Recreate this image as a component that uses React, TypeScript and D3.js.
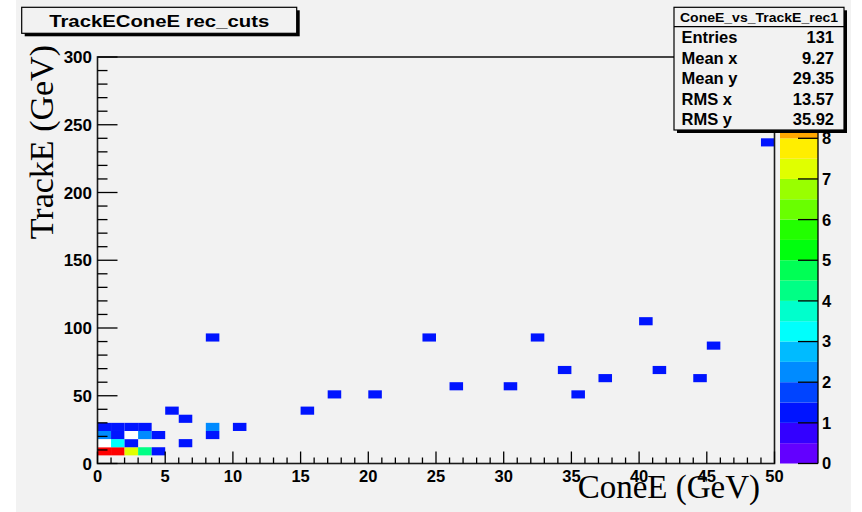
import React from 'react';
import * as d3 from 'd3';

const W = 862;
const H = 512;

// Filled bins of the 2D histogram (lower bin edges, bin contents)
const binConeE = [0, 1, 2, 3, 4, 0, 1, 2, 6, 0, 1, 2, 3, 4, 8, 0, 1, 2, 3, 8, 10, 6, 5, 15, 17, 20, 35, 26, 30, 37, 44, 34, 41, 45, 8, 24, 32, 40, 49];
const binTrackE = [6, 6, 6, 6, 6, 12, 12, 12, 12, 18, 18, 18, 18, 18, 18, 24, 24, 24, 24, 24, 24, 30, 36, 36, 48, 48, 48, 54, 54, 60, 60, 66, 66, 84, 90, 90, 90, 102, 234];
const binContent = [10, 10, 7, 4, 1, 0, 3, 1, 1, 2, 1, 0, 2, 1, 1, 1, 1, 1, 1, 2, 1, 1, 1, 1, 1, 1, 1, 1, 1, 1, 1, 1, 1, 1, 1, 1, 1, 1, 1];

const binWidthX = 1;
const binWidthY = 6;

const xTickLabels = ['0', '5', '10', '15', '20', '25', '30', '35', '40', '45', '50'];
const yTickLabels = ['0', '50', '100', '150', '200', '250', '300'];
const zTickLabels = ['0', '1', '2', '3', '4', '5', '6', '7', '8'];

const statsLabels = ['Entries', 'Mean x', 'Mean y', 'RMS x', 'RMS y'];
const statsValues = ['131', '9.27', '29.35', '13.57', '35.92'];

const titleText = 'TrackEConeE rec_cuts';
const statsTitle = 'ConeE_vs_TrackE_rec1';
const xTitle = 'ConeE (GeV)';
const yTitle = 'TrackE (GeV)';

const Z_MAX = 10;
const N_CONTOURS = 20;
const N_COLORS = 50;

// Violet -> red spectrum palette (fixed saturation and lightness, hue scan)
function paletteColor(i: number): string {
  if (i >= N_COLORS - 1) return '#ff0000';
  const hue = 280 - (i + 1) * (280 / N_COLORS);
  return d3.hsl(hue, 1, 0.5).formatHex();
}

function contourColor(k: number): string {
  const idx = Math.floor(((k + 0.99) * N_COLORS) / N_CONTOURS);
  return paletteColor(idx);
}

function zColor(z: number): string {
  if (z <= 0) return '#ffffff';
  const k = Math.min(N_CONTOURS - 1, Math.floor(z / (Z_MAX / N_CONTOURS)));
  return contourColor(k);
}

const BG = '#f2f2f2';
const SANS = "'Liberation Sans', Arial, Helvetica, sans-serif";
const SERIF = "'Liberation Serif', 'Times New Roman', serif";

export default function App() {
  const frame = { left: 97.5, right: 774.5, top: 57, bottom: 463.5 };
  const x = d3.scaleLinear().domain([0, 50]).range([frame.left, frame.right]);
  const y = d3.scaleLinear().domain([0, 300]).range([frame.bottom, frame.top]);

  const bar = { left: 780, right: 818 };
  const z = d3.scaleLinear().domain([0, Z_MAX]).range([frame.bottom, frame.top]);

  const xMinor = d3.range(0, 51, 1);
  const yMinor = d3.range(0, 301, 10);
  const levels = d3.range(N_CONTOURS);
  const step = Z_MAX / N_CONTOURS;

  const stats = { left: 674, right: 844, top: 7.3, bottom: 130, head: 26.7 };
  const title = { left: 21.7, right: 296.7, top: 7.3, bottom: 33.3 };

  return (
    <svg
      width={W}
      height={H}
      style={{ position: 'absolute', left: 0, top: 0, display: 'block' }}
      xmlns="http://www.w3.org/2000/svg"
    >
      <rect x={0} y={0} width={W} height={H} fill="#ffffff" />
      <rect x={16} y={0} width={835} height={H} fill={BG} />

      {/* histogram title box */}
      <rect x={title.left + 3} y={title.top + 3} width={title.right - title.left} height={title.bottom - title.top} fill="#000" />
      <rect x={title.left} y={title.top} width={title.right - title.left} height={title.bottom - title.top} fill={BG} stroke="#000" strokeWidth={1.2} />
      <text
        x={(title.left + title.right) / 2}
        y={26.7}
        textAnchor="middle"
        fontFamily={SANS}
        fontWeight="bold"
        fontSize={17}
        textLength={220}
        lengthAdjust="spacingAndGlyphs"
        fill="#000"
      >
        {titleText}
      </text>

      {/* frame */}
      <rect x={frame.left} y={frame.top} width={frame.right - frame.left} height={frame.bottom - frame.top} fill={BG} />

      {/* cells */}
      {binContent.map((c, i) => (
        <rect
          key={`cell-${i}`}
          x={x(binConeE[i])}
          y={y(binTrackE[i] + binWidthY)}
          width={x(binConeE[i] + binWidthX) - x(binConeE[i])}
          height={y(binTrackE[i]) - y(binTrackE[i] + binWidthY)}
          fill={zColor(c)}
        />
      ))}

      <rect x={frame.left} y={frame.top} width={frame.right - frame.left} height={frame.bottom - frame.top} fill="none" stroke="#1a1a1a" strokeWidth={1.6} />

      {/* x axis ticks */}
      {xMinor.map((v) => {
        const major = v % 5 === 0;
        return (
          <line key={`xt-${v}`} x1={x(v)} x2={x(v)} y1={frame.bottom} y2={frame.bottom - (major ? 12 : 6)} stroke="#000" strokeWidth={1.3} />
        );
      })}
      {xTickLabels.map((t) => (
        <text key={`xl-${t}`} x={x(+t)} y={482} textAnchor="middle" fontFamily={SANS} fontWeight="bold" fontSize={16.5} fill="#000">
          {t}
        </text>
      ))}

      {/* y axis ticks */}
      {yMinor.map((v) => {
        const major = v % 50 === 0;
        return (
          <line key={`yt-${v}`} x1={frame.left} x2={frame.left + (major ? 20 : 10)} y1={y(v)} y2={y(v)} stroke="#000" strokeWidth={1.3} />
        );
      })}
      {yTickLabels.map((t) => (
        <text key={`yl-${t}`} x={92} y={y(+t)} dy="0.36em" textAnchor="end" fontFamily={SANS} fontWeight="bold" fontSize={17} fill="#000">
          {t}
        </text>
      ))}

      {/* colour scale */}
      {levels.map((k) => (
        <rect
          key={`band-${k}`}
          x={bar.left}
          y={z((k + 1) * step)}
          width={bar.right - bar.left}
          height={z(k * step) - z((k + 1) * step)}
          fill={contourColor(k)}
        />
      ))}
      <line x1={bar.right} x2={bar.right} y1={frame.top} y2={frame.bottom} stroke="#000" strokeWidth={1.3} />
      {zTickLabels.map((t) => (
        <g key={`zt-${t}`}>
          <line x1={bar.right - 20} x2={bar.right} y1={z(+t)} y2={z(+t)} stroke="#000" strokeWidth={1.3} />
          <text x={822} y={z(+t)} dy="0.36em" fontFamily={SANS} fontWeight="bold" fontSize={16.5} fill="#000">
            {t}
          </text>
        </g>
      ))}

      {/* statistics box */}
      <rect x={stats.left + 3} y={stats.top + 3} width={stats.right - stats.left} height={stats.bottom - stats.top} fill="#000" />
      <rect x={stats.left} y={stats.top} width={stats.right - stats.left} height={stats.bottom - stats.top} fill={BG} stroke="#000" strokeWidth={1.2} />
      <line x1={stats.left} x2={stats.right} y1={stats.head} y2={stats.head} stroke="#000" strokeWidth={1.2} />
      <text
        x={(stats.left + stats.right) / 2}
        y={22}
        textAnchor="middle"
        fontFamily={SANS}
        fontWeight="bold"
        fontSize={13.5}
        textLength={158}
        lengthAdjust="spacingAndGlyphs"
        fill="#000"
      >
        {statsTitle}
      </text>
      {statsLabels.map((l, i) => {
        const rowY = 43 + i * 20.5;
        return (
          <g key={`st-${i}`}>
            <text x={681.5} y={rowY} fontFamily={SANS} fontWeight="bold" fontSize={16.5} fill="#000">
              {l}
            </text>
            <text x={834} y={rowY} textAnchor="end" fontFamily={SANS} fontWeight="bold" fontSize={16.5} fill="#000">
              {statsValues[i]}
            </text>
          </g>
        );
      })}

      {/* axis titles */}
      <text x={760} y={497.5} textAnchor="end" fontFamily={SERIF} fontSize={33} fill="#000">
        {xTitle}
      </text>
      <text
        transform={`translate(53.3, 45) rotate(-90)`}
        textAnchor="end"
        fontFamily={SERIF}
        fontSize={34}
        fill="#000"
      >
        {yTitle}
      </text>
    </svg>
  );
}
